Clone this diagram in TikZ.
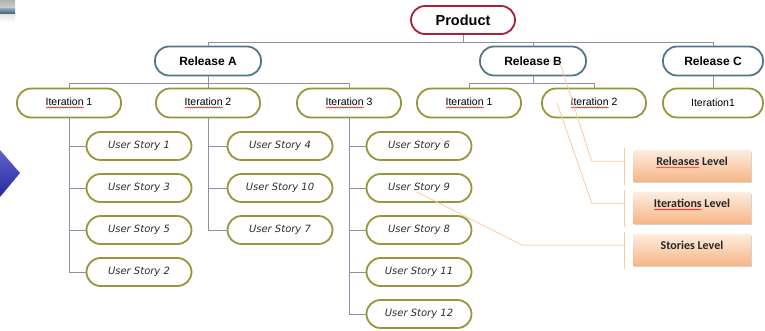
\documentclass[tikz,border=0pt]{standalone}
\usepackage{fontspec}
\setmainfont{Liberation Sans}
\newfontfamily\storyfont{DejaVu Sans}
\newfontfamily\lvlfont{Carlito}
\usepackage{tikz}
\usetikzlibrary{calc,shadows,decorations.pathmorphing}
\definecolor{prod}{RGB}{168,32,58}
\definecolor{rel}{RGB}{84,118,138}
\definecolor{olive}{RGB}{150,150,58}
\definecolor{wire}{RGB}{140,144,170}
\definecolor{peach}{RGB}{248,203,165}
\definecolor{lvltop}{RGB}{253,236,222}
\definecolor{lvlbot}{RGB}{246,182,134}
\definecolor{spell}{RGB}{225,40,40}
\definecolor{slide}{RGB}{44,48,185}
\newcommand\wavy[1]{\setbox0\hbox{#1}\rlap{\tikz[baseline=0pt]\draw[draw=spell,fill=none,line width=.45pt,sharp corners,decorate,decoration={snake,amplitude=.5pt,segment length=2pt}] (0pt,-2pt) -- (\wd0,-2pt);}\box0\relax}

\begin{document}
\begin{tikzpicture}[x=1pt,y=-1pt,font=\fontsize{10.5}{12}\selectfont]
\tikzset{pill/.style={draw,line width=1.8pt,rounded corners=14pt,fill=white,inner sep=2pt},
  prodbox/.style={pill,draw=prod,minimum width=104pt,minimum height=28pt,font=\bfseries\fontsize{14.5}{16}\selectfont},
  relbox/.style={pill,draw=rel,minimum width=106pt,minimum height=29pt,font=\bfseries\fontsize{12}{14}\selectfont},
  iterbox/.style={pill,draw=olive,minimum width=104pt,minimum height=29pt},
  storybox/.style={pill,draw=olive,minimum width=105pt,minimum height=28pt,font=\storyfont\itshape\fontsize{10}{12}\selectfont,text=black!82},
  lvlbox/.style={minimum width=118pt,minimum height=31pt,inner sep=0pt,text height=8pt,text depth=9pt,top color=lvltop,bottom color=lvlbot,drop shadow={shadow xshift=.6pt,shadow yshift=-1.6pt,opacity=.35},font=\lvlfont\bfseries\fontsize{12}{14}\selectfont,text=black!85},
  wire/.style={draw=wire,line width=1pt},callout/.style={draw=peach,line width=.8pt}}
\useasboundingbox (0,0) rectangle (765,330);
% slide remnants on the left
\shade[top color=black!30,bottom color=white] (0,0) rectangle (15,22);
\shade[top color=rel!60,bottom color=rel!90!black] (0,8) rectangle (15,13);
\shade[top color=slide!75!white,bottom color=slide!85!black] (0,150) -- (20,173) -- (0,197) -- cycle;
% top levels
\node[prodbox] (prod) at (463,20) {Product};
\node[relbox] (relA) at (208,61) {Release A};
\node[relbox] (relB) at (533,61) {Release B};
\node[relbox,minimum width=100pt] (relC) at (713,61) {Release C};
\node[iterbox] (itA1) at (69,103) {\wavy{Iteration} 1};
\node[iterbox] (itA2) at (208,103) {\wavy{Iteration} 2};
\node[iterbox] (itA3) at (349,103) {\wavy{Iteration} 3};
\node[iterbox] (itB1) at (469,103) {\wavy{Iteration} 1};
\node[iterbox] (itB2) at (594,103) {\wavy{Iteration} 2};
\node[iterbox,minimum width=100pt] (itC1) at (713,103) {Iteration1};
% stories
\foreach \n/\y in {1/146,3/188,5/230,2/272}
  \node[storybox] (s\n) at (139,\y) {User Story \n};
\foreach \n/\y in {4/146,10/188,7/230}
  \node[storybox] (s\n) at (280,\y) {User Story \n};
\foreach \n/\y in {6/146,9/188,8/230,11/272,12/314}
  \node[storybox] (s\n) at (419,\y) {User Story \n};
% tree lines
\draw[wire] (prod.south) -- ++(0,8) coordinate (pbus);
\draw[wire] (relA.north) |- (pbus) -| (relC.north);
\draw[wire] (relB.north) -- (relB.north |- pbus);
\draw[wire] (relA.south) -- ++(0,7) coordinate (abus);
\draw[wire] (itA1.north) |- (abus) -| (itA3.north);
\draw[wire] (abus) -- (itA2.north);
\draw[wire] (relB.south) -- ++(0,7) coordinate (bbus);
\draw[wire] (itB1.north) |- (bbus) -| (itB2.north);
\draw[wire] (relC) -- (itC1);
\foreach \s in {s1,s3,s5,s2} \draw[wire] (itA1.south) |- (\s.west);
\foreach \s in {s4,s10,s7} \draw[wire] (itA2.south) |- (\s.west);
\foreach \s in {s6,s9,s8,s11,s12} \draw[wire] (itA3.south) |- (\s.west);
% level legend
\node[lvlbox] (rl) at (692,166) {\wavy{Releases} Level};
\node[lvlbox] (il) at (692,208) {\wavy{Iterations} Level};
\node[lvlbox] (sl) at (692,250) {Stories Level};
\foreach \b in {rl,il,sl} {
  \draw[callout] ($(\b.north west)+(-8,-2)$) -- ($(\b.south west)+(-8,3)$);
  \coordinate (\b k) at ($(\b.north west)+(-8,11)$);
}
\coordinate (relBpt) at ($(relB.center)+(27,2)$);
\coordinate (itB2pt) at ($(itB2.center)+(-37,0)$);
\coordinate (s9pt) at ($(s9.center)+(-2,4)$);
\draw[callout] (rlk) -- ++(-33,0) -- (relBpt);
\draw[callout] (ilk) -- ++(-33,0) -- (itB2pt);
\draw[callout] (slk) -- ++(-102,0) -- (s9pt);
\end{tikzpicture}
\end{document}
